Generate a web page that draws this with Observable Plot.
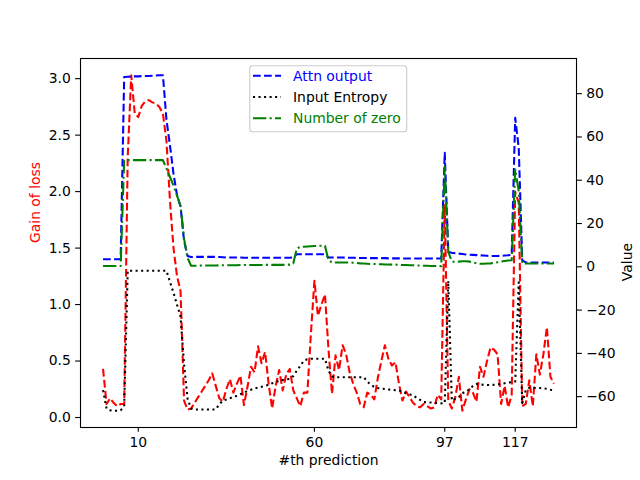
<!DOCTYPE html>
<html><head><meta charset="utf-8">
<script src="https://cdn.jsdelivr.net/npm/d3@7"></script>
<script src="https://cdn.jsdelivr.net/npm/@observablehq/plot@0.6"></script>
<style>
body{margin:0;background:#fff;}
#wrap{position:relative;width:640px;height:480px;font-family:"DejaVu Sans",sans-serif;background:#fff;}
#legend{position:absolute;left:249px;top:65px;}
</style></head><body><div id="wrap"></div>
<script>
// Left axis series: gain of loss
const gainOfLoss = [
  0.43, 0.12, 0.17, 0.13, 0.10, 0.12, 0.12, 2.30, 3.03, 2.69,
  2.66, 2.76, 2.80, 2.81, 2.79, 2.78, 2.75, 2.69, 2.45, 1.92,
  1.50, 1.25, 1.12, 0.15, 0.07, 0.08, 0.13, 0.18, 0.23, 0.28,
  0.33, 0.39, 0.28, 0.17, 0.14, 0.25, 0.34, 0.22, 0.30, 0.37,
  0.11, 0.27, 0.45, 0.40, 0.63, 0.48, 0.58, 0.30, 0.08, 0.28,
  0.42, 0.24, 0.38, 0.43, 0.24, 0.17, 0.10, 0.22, 0.22, 0.74,
  1.21, 0.90, 1.00, 1.09, 0.60, 0.21, 0.55, 0.42, 0.64, 0.56,
  0.40, 0.30, 0.22, 0.12, 0.09, 0.22, 0.20, 0.16, 0.35, 0.50,
  0.64, 0.52, 0.46, 0.49, 0.30, 0.15, 0.23, 0.18, 0.13, 0.10,
  0.09, 0.12, 0.10, 0.08, 0.09, 0.20, 0.16, 1.88, 0.15, 0.08,
  0.18, 0.36, 0.06, 0.16, 0.25, 0.22, 0.14, 0.45, 0.36, 0.50,
  0.62, 0.60, 0.56, 0.12, 0.28, 0.09, 0.20, 2.00, 1.90, 0.10,
  0.12, 0.33, 0.10, 0.56, 0.38, 0.56, 0.80, 0.36, 0.30
];
// Right axis series
const attnOutput = [
  3.5, 3.5, 3.5, 3.5, 3.5, 3.5, 87.7, 87.8, 87.9, 88.0,
  88.0, 88.1, 88.2, 88.2, 88.3, 88.4, 88.5, 88.5, 68, 56,
  43, 33, 28, 12, 5, 4.5, 4.6, 4.6, 4.6, 4.6,
  4.6, 4.6, 4.6, 4.5, 4.4, 4.3, 4.3, 4.3, 4.3, 4.3,
  4.2, 4.2, 4.2, 4.2, 4.2, 4.2, 4.2, 4.2, 4.2, 4.2,
  4.2, 4.2, 4.2, 4.2, 4.3, 5.8, 5.8, 5.8, 5.8, 5.8,
  5.8, 5.8, 5.8, 5.8, 4.3, 4.3, 4.3, 4.3, 4.3, 4.2,
  4.2, 4.2, 4.1, 4.1, 4.1, 4.1, 4.0, 4.0, 4.0, 4.0,
  4.0, 3.9, 3.9, 3.9, 3.9, 3.8, 3.8, 3.8, 3.8, 3.8,
  3.8, 3.8, 3.8, 3.8, 3.8, 3.8, 3.9, 52.7, 6.8, 6.5,
  6.3, 6.1, 5.9, 5.7, 5.6, 5.5, 5.4, 5.3, 5.2, 5.1,
  5.0, 5.0, 5.0, 5.1, 5.2, 5.3, 5.5, 68.8, 55, 3.0,
  2.0, 2.0, 2.0, 2.0, 2.0, 2.0, 2.0, 2.0, 2.0
];
const inputEntropy = [
  -57, -65.5, -66.3, -66.5, -66.5, -66.3, -64.5, -1.8, -1.8, -1.8,
  -1.8, -1.8, -1.8, -1.8, -1.8, -1.8, -1.8, -1.8, -1.8, -7,
  -12, -17.5, -23, -45, -61, -65.5, -65.9, -65.9, -65.9, -65.9,
  -65.9, -65.9, -65.9, -63.5, -61.8, -61.3, -60.7, -60.2, -59.6, -58.9,
  -58.2, -57.3, -56.8, -56.2, -55.8, -55.4, -55.0, -54.6, -53.8, -53.3,
  -52.7, -52.3, -52.0, -51.8, -50.5, -48, -45.8, -43.3, -42.7, -42.5,
  -42.5, -42.5, -42.5, -42.5, -48, -50.7, -51, -51, -51, -51,
  -51, -51, -51, -51, -51, -53, -54.5, -55.5, -56, -56.3,
  -56.5, -56.7, -56.8, -57, -57.1, -57.7, -58.4, -58.9, -59.4, -60.5,
  -61.5, -62.5, -62.6, -62.7, -62.8, -63, -63.1, -63, -6.5, -61.8,
  -61, -60.2, -58.5, -57.5, -56.8, -55, -54.2, -54.4, -54.5, -54.6,
  -54.6, -54.5, -54.3, -54.1, -53.8, -53.5, -53.3, -53, -7.2, -63,
  -57, -55.9, -55.9, -56, -56, -56.2, -56.4, -56.8, -57
];
const numberOfZero = [
  0.4, 0.4, 0.4, 0.4, 0.4, 0.4, 49.3, 49.3, 49.3, 49.3,
  49.3, 49.3, 49.3, 49.3, 49.3, 49.3, 49.3, 49.3, 45.5, 41.5,
  37.5, 33, 28, 13, 4, 0.5, 0.5, 0.5, 0.6, 0.6,
  0.6, 0.6, 0.6, 0.7, 0.7, 0.7, 0.7, 0.7, 0.7, 0.8,
  0.8, 0.8, 0.8, 0.8, 0.8, 0.8, 0.9, 0.9, 0.9, 0.9,
  0.9, 0.9, 1.0, 1.0, 1.5, 8.5, 9.2, 9.3, 9.4, 9.5,
  9.6, 9.7, 9.7, 9.7, 3.0, 2.0, 2.0, 2.0, 2.0, 2.0,
  2.0, 1.9, 1.8, 1.6, 1.5, 1.4, 1.3, 1.3, 1.2, 1.2,
  1.1, 1.1, 1.0, 1.0, 0.9, 0.8, 0.8, 0.7, 0.7, 0.6,
  0.6, 0.5, 0.5, 0.4, 0.4, 0.3, 0.3, 46.5, 7.0, 2.5,
  2.2, 2.4, 2.6, 2.6, 2.4, 2.0, 1.6, 1.4, 1.4, 1.5,
  1.6, 1.8, 2.1, 2.4, 2.7, 2.9, 3.0, 45, 35, 1.5,
  1.5, 1.5, 1.5, 1.5, 1.5, 1.5, 1.5, 1.5, 1.5
];
const xTicks = [10, 60, 97, 117];
const leftTicks = [0, 0.5, 1, 1.5, 2, 2.5, 3];
const rightTicks = [-60, -40, -20, 0, 20, 40, 60, 80];
const seriesNames = ["Attn output", "Input Entropy", "Number of zero"];
const xLabel = "#th prediction";
const leftLabel = "Gain of loss";
const rightLabel = "Value";

// matplotlib-like autoscale with 5% margins
function padded(vals) {
  const lo = d3.min(vals), hi = d3.max(vals), m = 0.05 * (hi - lo);
  return [lo - m, hi + m];
}
const n = gainOfLoss.length;
const xDom = padded([0, n - 1]);
const lDom = padded(gainOfLoss);
const rDom = padded(attnOutput.concat(inputEntropy, numberOfZero));
const toRight = L => rDom[0] + (L - lDom[0]) * (rDom[1] - rDom[0]) / (lDom[1] - lDom[0]);

const rows = gainOfLoss.map((g, i) => ({
  x: i, gain: g, attn: attnOutput[i], entropy: inputEntropy[i], zero: numberOfZero[i]
}));

const leftMap = new Map(leftTicks.map(t => [toRight(t), t.toFixed(1)]));
const fmtR = d3.format("d");

const LW = 2.08;
const DASH = "7.7 3.33", DOT = "2.08 3.44", DASHDOT = "13.3 3.33 2.08 3.33";
const common = {strokeWidth: LW, strokeLinejoin: "round", strokeLinecap: "butt"};

const chart = Plot.plot({
  width: 640, height: 480,
  marginLeft: 80, marginRight: 64, marginTop: 58, marginBottom: 53,
  style: {fontFamily: "DejaVu Sans, sans-serif", fontSize: "13.9px", color: "black", background: "white", overflow: "visible"},
  x: {domain: xDom},
  y: {domain: rDom},
  marks: [
    Plot.line(rows, {x: "x", y: d => toRight(d.gain), stroke: "red", strokeDasharray: DASH, ...common}),
    Plot.line(rows, {x: "x", y: "attn", stroke: "blue", strokeDasharray: DASH, ...common}),
    Plot.line(rows, {x: "x", y: "entropy", stroke: "black", strokeDasharray: DOT, ...common}),
    Plot.line(rows, {x: "x", y: "zero", stroke: "green", strokeDasharray: DASHDOT, ...common}),
    Plot.frame({stroke: "black", strokeWidth: 1.1}),
    Plot.axisX(xTicks, {anchor: "bottom", tickSize: 4.86, tickPadding: 4.86, strokeWidth: 1.1, label: null, tickFormat: d => String(d)}),
    Plot.axisY(leftTicks.map(toRight), {anchor: "left", tickSize: 4.86, tickPadding: 4.86, strokeWidth: 1.1, label: null, tickFormat: d => leftMap.get(d)}),
    Plot.axisY(rightTicks, {anchor: "right", tickSize: 4.86, tickPadding: 4.86, strokeWidth: 1.1, label: null, tickFormat: d => fmtR(d)}),
    Plot.text([xLabel], {frameAnchor: "bottom", dy: 37, text: d => d, fill: "black"}),
    Plot.text([leftLabel], {frameAnchor: "left", dx: -45, rotate: -90, text: d => d, fill: "red"}),
    Plot.text([rightLabel], {frameAnchor: "right", dx: 51, rotate: -90, text: d => d, fill: "black"})
  ]
});
const wrap = document.getElementById("wrap");
wrap.appendChild(chart);

// Legend (matplotlib style)
const legendColors = ["blue", "black", "green"];
const legendDash = [DASH, DOT, DASHDOT];
const leg = d3.select(wrap).append("svg").attr("id", "legend")
  .attr("width", 159).attr("height", 68)
  .style("font-family", "DejaVu Sans, sans-serif").style("font-size", "13.9px");
leg.append("rect").attr("x", 0.7).attr("y", 0.7).attr("width", 157).attr("height", 66)
  .attr("rx", 2.8).attr("fill", "white").attr("fill-opacity", 0.8)
  .attr("stroke", "#cccccc").attr("stroke-width", 1.1);
seriesNames.forEach((name, k) => {
  const y = 10.7 + k * 21.3;
  leg.append("line").attr("x1", 4).attr("x2", 32).attr("y1", y).attr("y2", y)
    .attr("stroke", legendColors[k]).attr("stroke-width", LW)
    .attr("stroke-dasharray", legendDash[k]).attr("stroke-linecap", "butt");
  leg.append("text").attr("x", 44).attr("y", y).attr("dy", "0.35em")
    .attr("fill", legendColors[k]).text(name);
});
</script>
</body></html>
